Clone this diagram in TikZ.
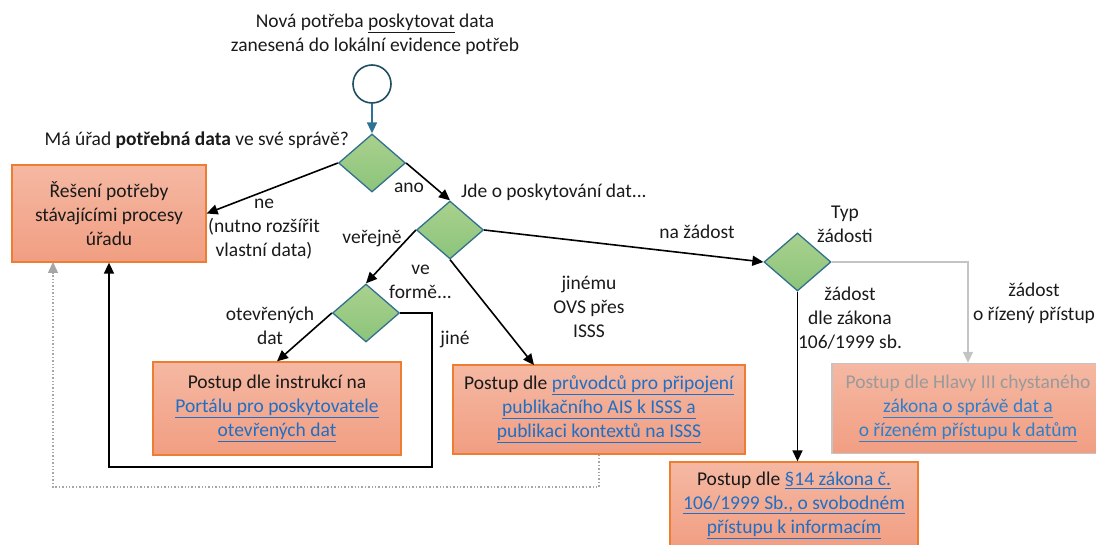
\documentclass[tikz,border=0pt]{standalone}
\usepackage{fontspec}
\setmainfont{Carlito}
\usetikzlibrary{shapes.geometric,arrows.meta}
\definecolor{orangeb}{HTML}{ED7D31}
\definecolor{boxtop}{HTML}{F5B8A3}
\definecolor{boxbot}{HTML}{F19E82}
\definecolor{dtop}{HTML}{A9D18E}
\definecolor{dbot}{HTML}{8CC47A}
\definecolor{dborder}{HTML}{31708F}
\definecolor{circb}{HTML}{1F4E5F}
\definecolor{tealarrow}{HTML}{2E7395}
\definecolor{linkblue}{HTML}{1F6FC6}
\definecolor{linkfade}{HTML}{2E7FCC}
\definecolor{fadegray}{HTML}{9A9A9A}
\definecolor{lgray}{HTML}{C4C4C4}
\definecolor{dgray}{HTML}{A6A6A6}
\definecolor{txt}{HTML}{1A1A1A}
\newcommand\lnk[1]{\textcolor{linkblue}{\underline{#1}}}
\newcommand\lnkf[1]{\textcolor{linkfade}{\underline{#1}}}
\tikzset{
  every node/.style={font=\fontsize{19.5}{24}\selectfont, text=txt},
  lbl/.style={align=center, inner sep=0pt},
  procbox/.style={rectangle, draw=orangeb, line width=1.3pt, top color=boxtop, bottom color=boxbot, align=center, inner sep=0pt},
  decis/.style={diamond, draw=dborder, line width=1.3pt, top color=dtop, bottom color=dbot, minimum width=67pt, minimum height=58pt, inner sep=0pt},
  conn/.style={draw=black, line width=1.6pt, -{Triangle[length=11pt,width=10pt]}},
  gconn/.style={draw=lgray, line width=1.6pt, -{Triangle[length=11pt,width=10pt]}},
  dconn/.style={draw=dgray, line width=1.4pt, dotted, -{Triangle[length=11pt,width=10pt]}},
}
\begin{document}
\begin{tikzpicture}[x=1pt,y=-1pt]
\useasboundingbox (0,0) rectangle (1096,545);
% start
\node[lbl] (toptext) at (375,34) {Nová potřeba \underline{poskytovat} data\\zanesená do lokální evidence potřeb};
\node[circle, draw=circb, line width=1.6pt, minimum size=38pt, inner sep=0pt] (start) at (372,84) {};
% decisions
\node[decis] (d1) at (372,163) {};
\node[decis] (d2) at (450,230) {};
\node[decis] (d3) at (366,313) {};
\node[decis] (d4) at (797.5,262) {};
% boxes
\node[procbox, minimum width=194pt, minimum height=97pt] (box1) at (109,213.5) {Řešení potřeby\\stávajícími procesy\\úřadu};
\node[procbox, minimum width=248pt, minimum height=93pt] (box2) at (277,408.5) {Postup dle instrukcí na\\\lnk{Portálu pro poskytovatele}\\\lnk{otevřených dat}};
\node[procbox, minimum width=292pt, minimum height=89pt] (box3) at (599,409.5) {Postup dle \lnk{průvodců pro připojení}\\\lnk{publikačního AIS k ISSS a}\\\lnk{publikaci kontextů na ISSS}};
\node[procbox, draw=lgray, minimum width=272pt, minimum height=90pt] (box4) at (968,408.5) {\textcolor{fadegray}{Postup dle Hlavy III chystaného}\\\lnkf{zákona o správě dat a}\\\lnkf{o řízeném přístupu k datům}};
\node[procbox, minimum width=248pt, minimum height=86pt] (box5) at (794,505) {Postup dle \lnk{§14 zákona č.}\\\lnk{106/1999 Sb., o svobodném}\\\lnk{přístupu k informacím}};
% labels
\node[lbl, anchor=east] (q1) at (349,140) {Má úřad \textbf{potřebná data} ve své správě?};
\node[lbl] (lne) at (264,229) {ne\\(nutno rozšířit\\vlastní data)};
\node[lbl] (lano) at (409,188) {ano};
\node[lbl, anchor=west] (q2) at (461,192) {Jde o poskytování dat...};
\node[lbl] (lver) at (372,238) {veřejně};
\node[lbl, anchor=west] (lve) at (389,282) {ve\\formě...};
\node[lbl] (lotev) at (270,326) {otevřených\\dat};
\node[lbl] (ljine) at (455,339) {jiné};
\node[lbl] (ljin) at (589,307) {jinému\\OVS přes\\ISSS};
\node[lbl] (lzad) at (697,232) {na žádost};
\node[lbl] (ltyp) at (845,224) {Typ\\žádosti};
\node[lbl] (l106) at (850,318) {žádost\\dle zákona\\106/1999 sb.};
\node[lbl] (lriz) at (1034,303) {žádost\\o řízený přístup};
% helper coordinates
\coordinate (jcorner) at (432,467);
\coordinate (b3in) at (534,365);
\coordinate (dotcorner) at (599,487);
\coordinate (b1dot) at (53,262);
% connectors
\draw[line width=1.6pt, draw=tealarrow, -{Triangle[length=11pt,width=10pt]}] (start.south) -- (d1.north);
\draw[conn] (d1.west) -- (box1.east);
\draw[conn] (d1.east) -- (d2.north);
\draw[conn] (d2.west) -- (d3.north);
\draw[conn] (d3.west) -- (box2.north);
\draw[conn] (d3.east) -| (jcorner) -| (box1.south);
\draw[conn] (d2.south) -- (b3in);
\draw[dconn] (box3.south) -- (dotcorner) -| (b1dot);
\draw[conn] (d2.east) -- (d4.west);
\draw[conn] (d4.south) -- (d4.south |- box5.north);
\draw[gconn] (d4.east) -| (box4.north);
\end{tikzpicture}
\end{document}
